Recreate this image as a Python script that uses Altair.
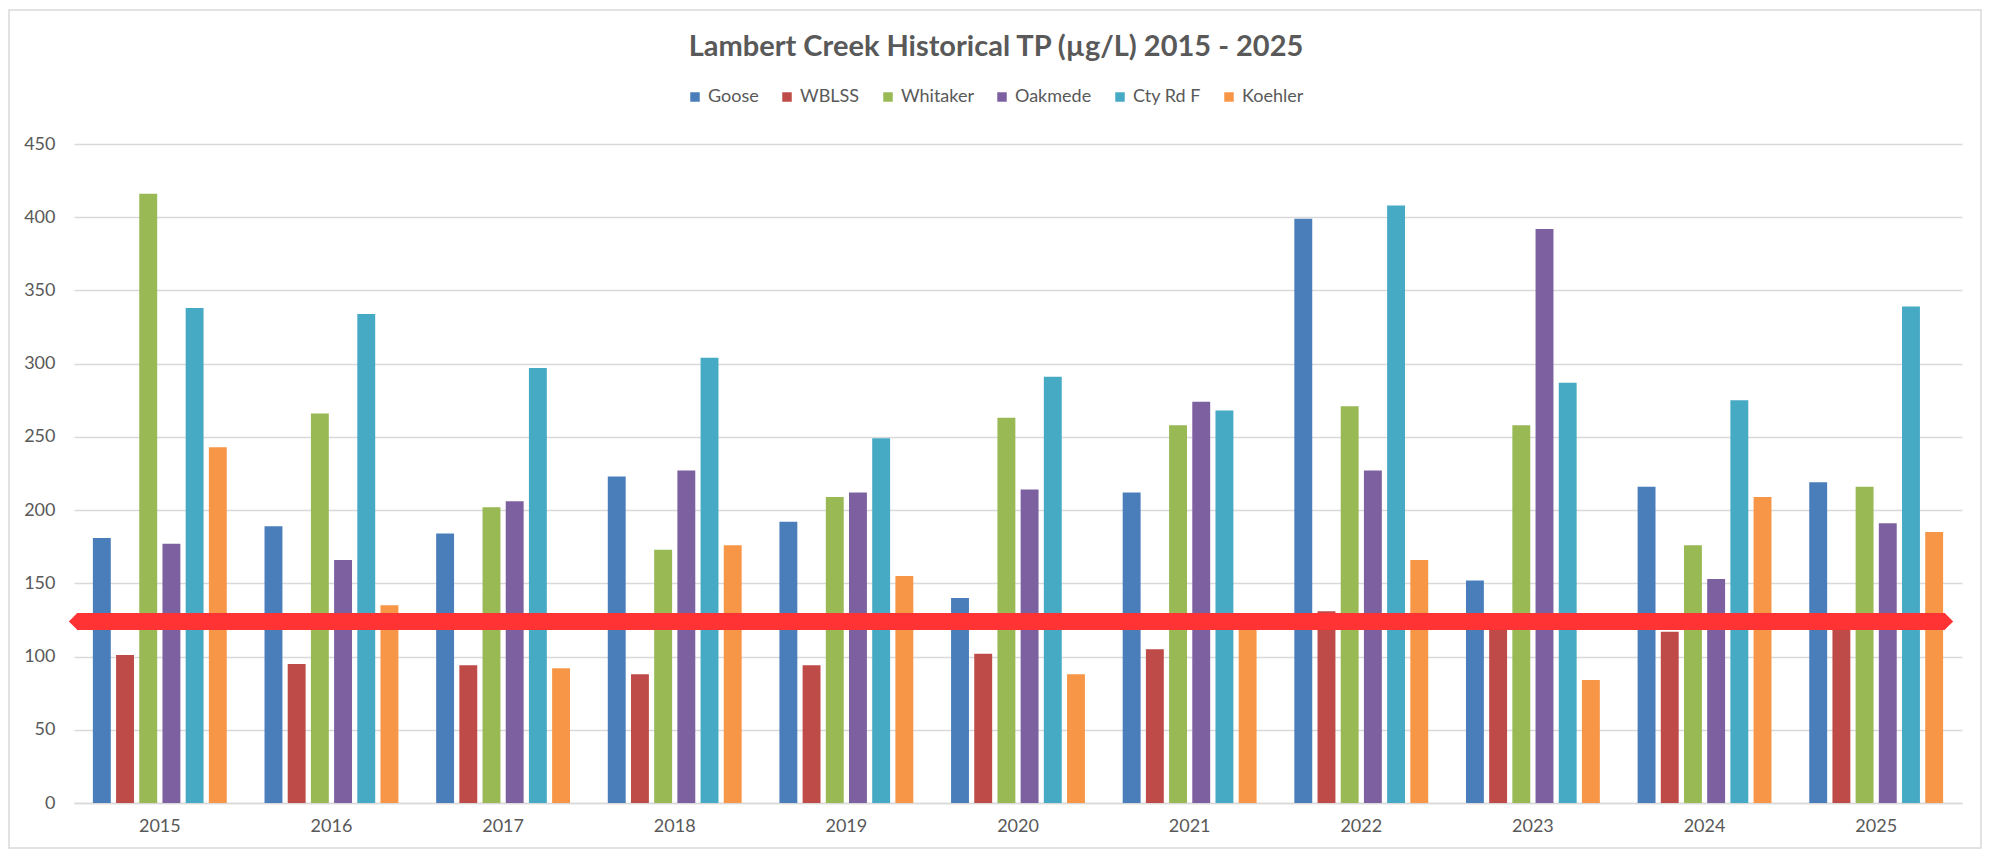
import altair as alt
import pandas as pd

years = ["2015", "2016", "2017", "2018", "2019", "2020", "2021", "2022", "2023", "2024", "2025"]
sites = ["Goose", "WBLSS", "Whitaker", "Oakmede", "Cty Rd F", "Koehler"]
goose = [181, 189, 184, 223, 192, 140, 212, 399, 152, 216, 219]
wblss = [101, 95, 94, 88, 94, 102, 105, 131, 126, 117, 127]
whitaker = [416, 266, 202, 173, 209, 263, 258, 271, 258, 176, 216]
oakmede = [177, 166, 206, 227, 212, 214, 274, 227, 392, 153, 191]
cty_rd_f = [338, 334, 297, 304, 249, 291, 268, 408, 287, 275, 339]
koehler = [243, 135, 92, 176, 155, 88, 127, 166, 84, 209, 185]
threshold = [124]
colors = ["#4a7ebb", "#be4b48", "#98b954", "#7d60a0", "#46aac5", "#f79646"]

series = [goose, wblss, whitaker, oakmede, cty_rd_f, koehler]
rows = []
for s, vals in zip(sites, series):
    for y, v in zip(years, vals):
        rows.append({"Year": y, "Site": s, "TP": v})
df = pd.DataFrame(rows)

W, H = 1888, 659
FONT = "Lato"

bars = alt.Chart(df).mark_bar().encode(
    x=alt.X("Year:N", sort=years,
            scale=alt.Scale(paddingInner=0.22, paddingOuter=0.11),
            axis=alt.Axis(title=None, labelAngle=0, ticks=False, domain=True,
                          domainColor="#d9d9d9", domainWidth=1.5,
                          labelFontSize=18, labelColor="#595959",
                          labelPadding=14, labelFont=FONT)),
    xOffset=alt.XOffset("Site:N", sort=sites, scale=alt.Scale(paddingInner=0.228)),
    y=alt.Y("TP:Q", scale=alt.Scale(domain=[0, 450], nice=False),
            axis=alt.Axis(title=None, values=list(range(0, 451, 50)),
                          domain=False, ticks=False, grid=True,
                          gridColor="#d9d9d9", gridWidth=1.5,
                          labelFontSize=18, labelColor="#595959",
                          labelPadding=19, labelFont=FONT)),
    color=alt.Color("Site:N", sort=sites,
                    scale=alt.Scale(domain=sites, range=colors),
                    legend=alt.Legend(title=None, orient="none", direction="horizontal",
                                      legendX=612, legendY=-56, symbolType="square",
                                      symbolSize=90, labelFontSize=18,
                                      labelColor="#595959", labelFont=FONT,
                                      columnPadding=19, labelOffset=4, padding=0,
                                      symbolStrokeWidth=0)),
)

tdf = pd.DataFrame({"TP": threshold})
red = "#ff3333"
rule = alt.Chart(tdf).mark_rule(color=red, strokeWidth=17, strokeCap="butt").encode(
    y="TP:Q", x=alt.value(3), x2=alt.value(1871)
)
left_tip = alt.Chart(tdf).mark_point(shape="M0,-1 L-1,0 L0,1 Z", filled=True, size=300,
                                     color=red, opacity=1, strokeWidth=0).encode(
    y="TP:Q", x=alt.value(3.5)
)
right_tip = alt.Chart(tdf).mark_point(shape="M0,-1 L1,0 L0,1 Z", filled=True, size=300,
                                      color=red, opacity=1, strokeWidth=0).encode(
    y="TP:Q", x=alt.value(1870.5)
)
frame = alt.Chart(pd.DataFrame({"a": [0]})).mark_rect(
    fill=None, stroke="#d9d9d9", strokeWidth=1.5, clip=False
).encode(x=alt.value(-65), x2=alt.value(1907), y=alt.value(-134), y2=alt.value(704))

chart = alt.layer(frame, bars, rule, left_tip, right_tip).properties(
    width=W, height=H,
    title=alt.TitleParams("Lambert Creek Historical TP (µg/L) 2015 - 2025",
                          fontSize=29, font=FONT, fontWeight="bold", color="#595959",
                          anchor="middle", frame="group", dx=-22, offset=-53),
    autosize=alt.AutoSizeParams(type="none"),
    padding={"left": 66, "top": 136, "right": 20, "bottom": 46},
    background="white",
).configure_view(stroke=None)

chart.save("out.html", embed_options={"renderer": "svg", "actions": False})
